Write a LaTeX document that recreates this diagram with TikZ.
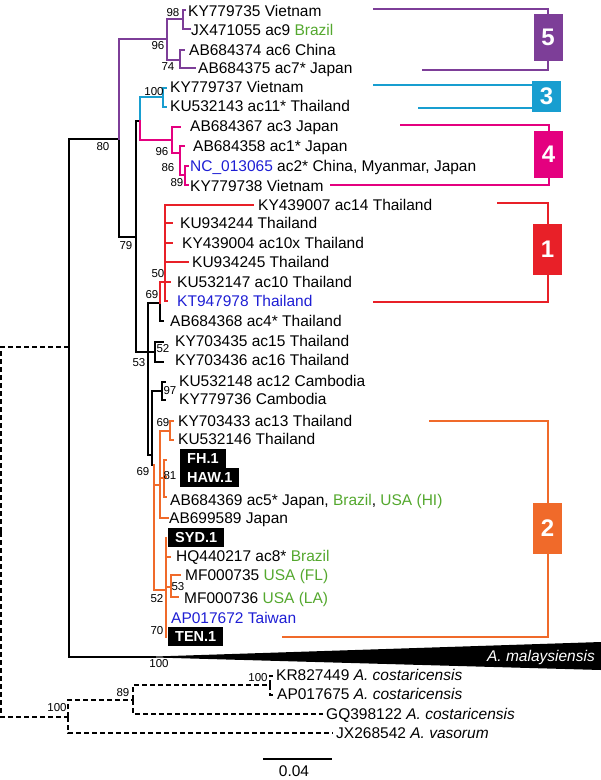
\documentclass[tikz,border=0pt]{standalone}
\usepackage{fontspec}
\setmainfont{Liberation Sans}
\definecolor{cpurple}{RGB}{125,62,152}
\definecolor{ccyan}{RGB}{24,158,208}
\definecolor{cmag}{RGB}{228,0,127}
\definecolor{cred}{RGB}{232,32,40}
\definecolor{corange}{RGB}{240,106,42}
\definecolor{cgreen}{RGB}{84,168,46}
\definecolor{cblue}{RGB}{30,30,212}
\tikzset{
    br/.style={line width=2pt, line cap=rect},
    dsh/.style={br, dash pattern=on 5pt off 3pt, line cap=butt} }
\tikzset{
    lab/.style={anchor=west, inner sep=0pt, text height=11pt, text depth=0pt,
        font=\fontsize{15.5}{18}\selectfont},
    sup/.style={inner sep=0pt, font=\fontsize{11.5}{13}\selectfont},
    blk/.style={anchor=west, fill=black, text=white, inner xsep=7pt, inner ysep=0pt,
        minimum height=19pt, font=\bfseries\fontsize{14.5}{17}\selectfont},
    cbox/.style={fill=#1, text=white, inner sep=0pt, minimum width=29pt,
        font=\bfseries\fontsize{24}{26}\selectfont} }

\begin{document}
\begin{tikzpicture}[x=1pt,y=-1pt]
\useasboundingbox (0,0) rectangle (601,780);

% inner nodes of the tree
  \coordinate (root) at (1,532);  \coordinate (ing) at (69,347);  \coordinate (outg) at (68,717);
  \coordinate (n79) at (119,139); \coordinate (malap) at (155,656.5);
  \coordinate (p0) at (167,39);  \coordinate (p98) at (183,19);  \coordinate (p74) at (180,60);
  \coordinate (n53) at (136,237); \coordinate (ncm) at (140,121);
  \coordinate (cy) at (163,97);  \coordinate (mg) at (172,140);
  \coordinate (m86) at (180,153); \coordinate (m89) at (185,175);
  \coordinate (na) at (148,352); \coordinate (n69) at (160,303); \coordinate (rc) at (165,282);
  \coordinate (n52) at (155,352); \coordinate (nb) at (152,455); \coordinate (c97) at (162,391);
  \coordinate (orr) at (154,465); \coordinate (ou) at (160,485); \coordinate (o69) at (170,431);
  \coordinate (o81) at (164,478); \coordinate (ol) at (166,590); \coordinate (o53) at (171,587);
  \coordinate (g89) at (133,700); \coordinate (g100) at (270,685);

% tips
  \coordinate (tKY735) at (185,10); \coordinate (tJX055) at (190,29);
  \coordinate (tAB374) at (184,50); \coordinate (tAB375) at (195,68);
  \coordinate (tKY737) at (166,88); \coordinate (tKU143) at (166,107);
  \coordinate (tAB367) at (180,127); \coordinate (tAB358) at (184,146);
  \coordinate (tNC065) at (188,166); \coordinate (tKY738) at (188,185);
  \coordinate (tKY007) at (253,205); \coordinate (tKU244) at (172,223);
  \coordinate (tKY004) at (172,243); \coordinate (tKU245) at (188,262);
  \coordinate (tKU147) at (170,282); \coordinate (tKT978) at (167,301);
  \coordinate (tAB368) at (163,321);
  \coordinate (tKY435) at (163,342); \coordinate (tKY436) at (163,362);
  \coordinate (tKU148) at (165,382); \coordinate (tKY736) at (165,400);
  \coordinate (tKY433) at (173,421); \coordinate (tKU146) at (173,440);
  \coordinate (tFH) at (166,460); \coordinate (tHAW) at (166,477); \coordinate (tAB369) at (166,497);
  \coordinate (tAB589) at (168,518);
  \coordinate (tSYD) at (166,538); \coordinate (tHQ217) at (170,557);
  \coordinate (tMF735) at (180,575); \coordinate (tMF736) at (178,597);
  \coordinate (tAP672) at (166,618); \coordinate (tTEN) at (166,637);
  \coordinate (tKR449) at (273,676); \coordinate (tAP675) at (273,695);
  \coordinate (tGQ122) at (323,714); \coordinate (tJX542) at (333,733);

% outgroup, dashed
  \draw [dsh] (root) |- (ing); \draw [dsh] (root) |- (outg);
  \draw [dsh] (outg) |- (g89); \draw [dsh] (outg) |- (tJX542);
  \draw [dsh] (g89) |- (g100); \draw [dsh] (g89) |- (tGQ122);
  \draw [dsh] (g100) |- (tKR449); \draw [dsh] (g100) |- (tAP675);

% black backbone
  \draw [br] (ing) |- (n79); \draw [br] (ing) |- (malap);
  \fill (malap) -- (601,642) -- (601,670) -- (155,657.5) -- cycle;
  \draw [br] (n79) |- (n53);
  \draw [br] (n53) |- (ncm); \draw [br] (n53) |- (na);
  \draw [br] (na) |- (n69); \draw [br] (na) |- (n52); \draw [br] (na) |- (nb);
  \draw [br] (n69) |- (tAB368);
  \draw [br] (n52) |- (tKY435); \draw [br] (n52) |- (tKY436);
  \draw [br] (nb) |- (c97); \draw [br] (nb) |- (orr);
  \draw [br] (c97) |- (tKU148); \draw [br] (c97) |- (tKY736);

% clade 5
  \draw [br,cpurple] (n79) |- (p0);
  \draw [br,cpurple] (p0) |- (p98); \draw [br,cpurple] (p0) |- (p74);
  \draw [br,cpurple] (p98) |- (tKY735); \draw [br,cpurple] (p98) |- (tJX055);
  \draw [br,cpurple] (p74) |- (tAB374); \draw [br,cpurple] (p74) |- (tAB375);
% clade 3
  \draw [br,ccyan] (ncm) |- (cy);
  \draw [br,ccyan] (cy) |- (tKY737); \draw [br,ccyan] (cy) |- (tKU143);
% clade 4
  \draw [br,cmag] (ncm) |- (mg);
  \draw [br,cmag] (mg) |- (tAB367); \draw [br,cmag] (mg) |- (m86);
  \draw [br,cmag] (m86) |- (tAB358); \draw [br,cmag] (m86) |- (m89);
  \draw [br,cmag] (m89) |- (tNC065); \draw [br,cmag] (m89) |- (tKY738);
% clade 1
  \draw [br,cred] (n69) |- (rc);
  \foreach \t in {tKY007,tKU244,tKY004,tKU245,tKU147,tKT978}
    \draw [br,cred] (rc) |- (\t);
% clade 2
  \draw [br,corange] (orr) |- (ou); \draw [br,corange] (orr) |- (ol);
  \draw [br,corange] (ou) |- (o69); \draw [br,corange] (ou) |- (o81); \draw [br,corange] (ou) |- (tAB589);
  \draw [br,corange] (o69) |- (tKY433); \draw [br,corange] (o69) |- (tKU146);
  \foreach \t in {tFH,tHAW,tAB369} \draw [br,corange] (o81) |- (\t);
  \foreach \t in {tSYD,tHQ217,o53,tAP672,tTEN} \draw [br,corange] (ol) |- (\t);
  \draw [br,corange] (o53) |- (tMF735); \draw [br,corange] (o53) |- (tMF736);

% taxa
  \node [lab] (lKY735) at (188,11) {KY779735 Vietnam};
  \node [lab] (lJX055) at (191,30) {JX471055 ac9 \textcolor{cgreen}{Brazil}};
  \node [lab] (lAB374) at (189,50) {AB684374 ac6 China};
  \node [lab] (lAB375) at (198,68) {AB684375 ac7* Japan};
  \node [lab] (lKY737) at (170,87) {KY779737 Vietnam};
  \node [lab] (lKU143) at (170,106) {KU532143 ac11* Thailand};
  \node [lab] (lAB367) at (190,126) {AB684367 ac3 Japan};
  \node [lab] (lAB358) at (193,146) {AB684358 ac1* Japan};
  \node [lab] (lNC065) at (190,166) {\textcolor{cblue}{NC\_013065} ac2* China, Myanmar, Japan};
  \node [lab] (lKY738) at (190,186) {KY779738 Vietnam};
  \node [lab] (lKY007) at (258,205) {KY439007 ac14 Thailand};
  \node [lab] (lKU244) at (180,223) {KU934244 Thailand};
  \node [lab] (lKY004) at (182,243) {KY439004 ac10x Thailand};
  \node [lab] (lKU245) at (192,262) {KU934245 Thailand};
  \node [lab] (lKU147) at (177,282) {KU532147 ac10 Thailand};
  \node [lab,text=cblue] (lKT978) at (177,301) {KT947978 Thailand};
  \node [lab] (lAB368) at (170,321) {AB684368 ac4* Thailand};
  \node [lab] (lKY435) at (175,341) {KY703435 ac15 Thailand};
  \node [lab] (lKY436) at (175,360) {KY703436 ac16 Thailand};
  \node [lab] (lKU148) at (179,381) {KU532148 ac12 Cambodia};
  \node [lab] (lKY736) at (179,399) {KY779736 Cambodia};
  \node [lab] (lKY433) at (178,421) {KY703433 ac13 Thailand};
  \node [lab] (lKU146) at (178,439) {KU532146 Thailand};
  \node [blk] (lFH) at (180,458.5) {FH.1};
  \node [blk] (lHAW) at (180,477.5) {HAW.1};
  \node [lab] (lAB369) at (170,500) {AB684369 ac5* Japan, \textcolor{cgreen}{Brazil}, \textcolor{cgreen}{USA (HI)}};
  \node [lab] (lAB589) at (169,518) {AB699589 Japan};
  \node [blk] (lSYD) at (168,537.5) {SYD.1};
  \node [lab] (lHQ217) at (176,556) {HQ440217 ac8* \textcolor{cgreen}{Brazil}};
  \node [lab] (lMF735) at (185,575) {MF000735 \textcolor{cgreen}{USA (FL)}};
  \node [lab] (lMF736) at (184,598) {MF000736 \textcolor{cgreen}{USA (LA)}};
  \node [lab,text=cblue] (lAP672) at (171,618) {AP017672 Taiwan};
  \node [blk] (lTEN) at (168,636.5) {TEN.1};
  \node [lab,anchor=east,text=white] (lmal) at (595,656) {\itshape A. malaysiensis};
  \node [lab] (lKR449) at (276,675) {KR827449 \textit{A. costaricensis}};
  \node [lab] (lAP675) at (277,694) {AP017675 \textit{A. costaricensis}};
  \node [lab] (lGQ122) at (326,714) {GQ398122 \textit{A. costaricensis}};
  \node [lab] (lJX542) at (336,733) {JX268542 \textit{A. vasorum}};

% support values
  \node [sup] (s98) at (173,13) {98};   \node [sup] (s96a) at (158,46) {96};
  \node [sup] (s74) at (168,67) {74};   \node [sup] (s100a) at (154,92) {100};
  \node [sup] (s96b) at (162,152) {96}; \node [sup] (s86) at (168,168) {86};
  \node [sup] (s89a) at (177,183) {89}; \node [sup] (s80) at (103,147) {80};
  \node [sup] (s79) at (126,246) {79};  \node [sup] (s50) at (158,274) {50};
  \node [sup] (s69a) at (152,295) {69}; \node [sup] (s52a) at (163,349) {52};
  \node [sup] (s53a) at (139,363) {53}; \node [sup] (s97) at (170,391) {97};
  \node [sup] (s69b) at (163,423) {69}; \node [sup] (s69c) at (143,472) {69};
  \node [sup] (s81) at (170,476) {81};  \node [sup] (s53b) at (178,587) {53};
  \node [sup] (s52b) at (157,599) {52}; \node [sup] (s70) at (157,631) {70};
  \node [sup] (s100b) at (159,664) {100}; \node [sup] (s100c) at (258,678) {100};
  \node [sup] (s89b) at (123,693) {89}; \node [sup] (s100d) at (57,708) {100};

% clade brackets
  \node [cbox=cpurple, minimum height=47pt] (b5) at (548,37.5) {5};
  \node [cbox=ccyan, minimum height=31pt] (b3) at (546.5,96.5) {3};
  \node [cbox=cmag, minimum height=47pt] (b4) at (548.5,154.5) {4};
  \node [cbox=cred, minimum height=51pt] (b1) at (547.5,249.5) {1};
  \node [cbox=corange, minimum height=51pt] (b2) at (547.5,528.5) {2};
  \coordinate (k5a) at (373,9);   \coordinate (k5b) at (422,70);
  \coordinate (k3a) at (373,85);  \coordinate (k3b) at (418,108);
  \coordinate (k4a) at (400,125); \coordinate (k4b) at (330,185);
  \coordinate (k1a) at (497,203); \coordinate (k1b) at (373,302);
  \coordinate (k2a) at (429,421); \coordinate (k2b) at (282,637);
  \draw [br,cpurple,line cap=butt] (k5a) -| (b5.north); \draw [br,cpurple,line cap=butt] (k5b) -| (b5.south);
  \draw [br,ccyan,line cap=butt] (k3a) -- (k3a -| b3.west); \draw [br,ccyan,line cap=butt] (k3b) -- (k3b -| b3.west);
  \draw [br,cmag,line cap=butt] (k4a) -| (b4.north); \draw [br,cmag,line cap=butt] (k4b) -| (b4.south);
  \draw [br,cred,line cap=butt] (k1a) -| (b1.north); \draw [br,cred,line cap=butt] (k1b) -| (b1.south);
  \draw [br,corange,line cap=butt] (k2a) -| (b2.north); \draw [br,corange,line cap=butt] (k2b) -| (b2.south);

% scale bar
  \coordinate (sb1) at (263,759); \coordinate (sb2) at (332,759);
  \draw [br,line cap=butt] (sb1) -- (sb2);
  \node [lab,anchor=center] (lsb) at (294,771) {0.04};

\end{tikzpicture}
\end{document}
